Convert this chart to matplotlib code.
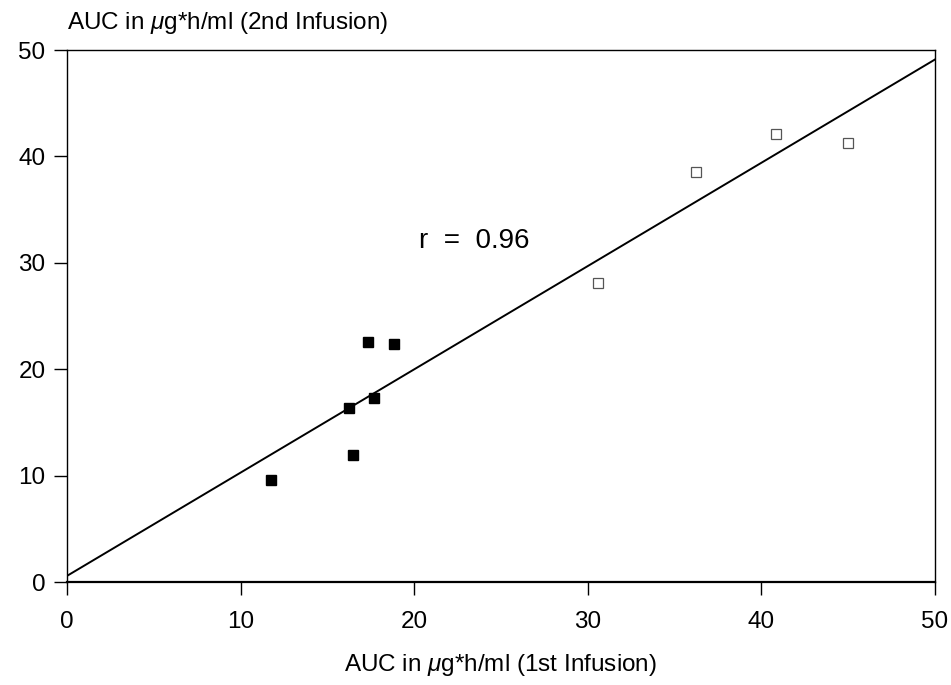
import matplotlib
matplotlib.use('Agg')
import matplotlib.pyplot as plt
import numpy as np

plt.rcParams['font.family'] = ['Liberation Sans', 'DejaVu Sans']
plt.rcParams['mathtext.fontset'] = 'custom'
plt.rcParams['mathtext.it'] = 'Liberation Sans:italic'
plt.rcParams['mathtext.rm'] = 'Liberation Sans'

# first group (filled squares)
first_x = [11.75, 16.25, 16.45, 17.35, 17.7, 18.85]
first_y = [9.6, 16.4, 12.0, 22.6, 17.3, 22.4]
# second group (open squares)
second_x = [30.6, 36.25, 40.85, 45.0]
second_y = [28.1, 38.5, 42.1, 41.3]
# regression line
slope = 0.97
intercept = 0.6
r_value = 0.96

fig = plt.figure(figsize=(9.51, 6.85), dpi=100)
ax = fig.add_axes([0.0705, 0.150, 0.9125, 0.777])

xl = np.array([0, 50])
ax.plot(xl, intercept + slope * xl, c='black', lw=1.4)
ax.plot(first_x, first_y, 's', ms=7.5, c='black', mec='black')
ax.plot(second_x, second_y, 's', ms=7.5, mfc='white', mec='#555555', mew=0.9)

ax.text(20.3, 32.1, 'r  =  %.2f' % r_value, fontsize=20, va='center')

ax.set(xlim=(0, 50), ylim=(0, 50))
ax.set_xticks(range(0, 51, 10))
ax.set_yticks(range(0, 51, 10))
ax.tick_params(direction='out', length=9.5, width=1, labelsize=17.5, pad=6)
ax.tick_params(axis='x', pad=11)
for s in ax.spines.values():
    s.set_linewidth(1)
ax.spines['bottom'].set_linewidth(1.6)

ax.set_xlabel(r'AUC in $\mu$g*h/ml (1st Infusion)', fontsize=17.5, labelpad=14)
fig.text(0.0705, 0.948, r'AUC in $\mu$g*h/ml (2nd Infusion)', fontsize=17.5, va='bottom')

fig.savefig('out.png', dpi=100)
